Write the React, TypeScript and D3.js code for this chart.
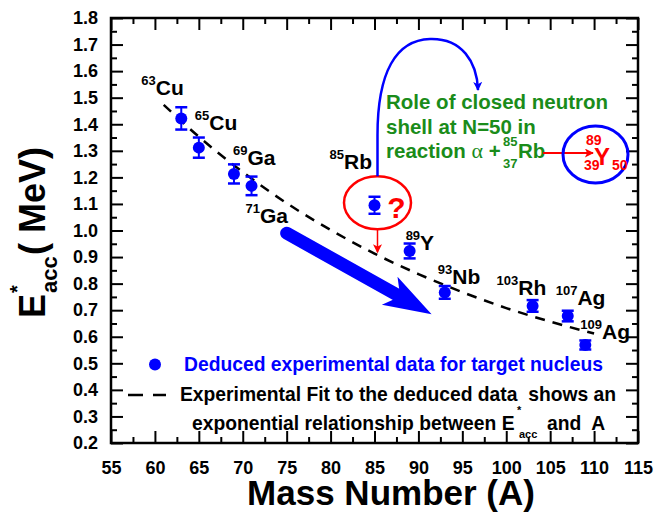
import * as d3 from "d3";
import { useEffect, useRef } from "react";

// target nuclei
const massNumbers = [63, 65, 69, 71, 85, 89, 93, 103, 107, 109];
const symbols = ["Cu", "Cu", "Ga", "Ga", "Rb", "Y", "Nb", "Rh", "Ag", "Ag"];
const excitation = [1.422, 1.312, 1.213, 1.168, 1.095, 0.923, 0.767, 0.716, 0.678, 0.569];
const errors = [0.042, 0.038, 0.036, 0.035, 0.032, 0.028, 0.024, 0.022, 0.02, 0.017];

// dashed experimental fit
const fitMass = [61, 65, 70, 75, 80, 85, 90, 95, 100, 105, 110];
const fitExcitation = [1.473, 1.353, 1.22, 1.103, 1.002, 0.913, 0.836, 0.768, 0.708, 0.657, 0.612];

const xTickValues = [55, 60, 65, 70, 75, 80, 85, 90, 95, 100, 105, 110, 115];
const yTickValues = [0.2, 0.3, 0.4, 0.5, 0.6, 0.7, 0.8, 0.9, 1.0, 1.1, 1.2, 1.3, 1.4, 1.5, 1.6, 1.7, 1.8];

// label placement (px) relative to each point
const labelOffsets = [
  [-40, -23], [-4, -18], [-1, -9], [-6, 37], [-45, -36],
  [-4, -1], [-7, -8], [-36, -11], [-12, -11], [-5, -6],
];

// big trend arrow, in data units [A, E]
const trendFrom = [75.0, 0.99];
const trendTo = [91.5, 0.685];

const W = 654;
const H = 512;
const FONT = "'Liberation Sans', Arial, Helvetica, sans-serif";
const BLUE = "#0000ff";
const RED = "#ff0000";
const GREEN = "#1a8c1a";

export default function App() {
  const svgRef = useRef<SVGSVGElement | null>(null);

  useEffect(() => {
    const svg = d3.select(svgRef.current);
    svg.selectAll("*").remove();

    const x = d3.scaleLinear().domain([55, 115]).range([111, 638]);
    const y = d3.scaleLinear().domain([0.2, 1.8]).range([443, 18]);
    const [x0, x1] = x.range();
    const [y0, y1] = y.range();

    const defs = svg.append("defs");
    const marker = (id: string, color: string, w: number, h: number) =>
      defs
        .append("marker")
        .attr("id", id)
        .attr("viewBox", "0 0 10 10")
        .attr("refX", 9)
        .attr("refY", 5)
        .attr("markerWidth", w)
        .attr("markerHeight", h)
        .attr("markerUnits", "userSpaceOnUse")
        .attr("orient", "auto")
        .append("path")
        .attr("d", "M0,0 L10,5 L0,10 L2.5,5 Z")
        .attr("fill", color);
    marker("redHead", RED, 11, 9);
    marker("blueHead", BLUE, 12, 9);

    // axes (inward ticks on all four sides)
    const minorX = d3.range(57.5, 115, 5);
    const minorY = d3.range(0.25, 1.8, 0.1);

    const styleAxis = (g: any) => {
      g.select(".domain").remove();
      g.selectAll("line").attr("stroke", "#000").attr("stroke-width", 2);
      g.selectAll("text")
        .attr("font-family", FONT)
        .attr("font-weight", "bold")
        .attr("font-size", 18)
        .attr("fill", "#000");
    };
    const bare = (g: any) => {
      styleAxis(g);
      g.selectAll("text").remove();
    };

    svg.append("g").attr("transform", `translate(0,${y0})`)
      .call(d3.axisBottom(x).tickValues(xTickValues).tickSize(-12).tickPadding(18).tickFormat(d3.format("d")) as any)
      .call(styleAxis);
    svg.append("g").attr("transform", `translate(0,${y0})`)
      .call(d3.axisBottom(x).tickValues(minorX).tickSize(-6) as any)
      .call(bare);
    svg.append("g").attr("transform", `translate(0,${y1})`)
      .call(d3.axisTop(x).tickValues(xTickValues).tickSize(-12) as any)
      .call(bare);
    svg.append("g").attr("transform", `translate(0,${y1})`)
      .call(d3.axisTop(x).tickValues(minorX).tickSize(-6) as any)
      .call(bare);

    svg.append("g").attr("transform", `translate(${x0},0)`)
      .call(d3.axisLeft(y).tickValues(yTickValues).tickSize(-12).tickPadding(13).tickFormat(d3.format(".1f")) as any)
      .call(styleAxis);
    svg.append("g").attr("transform", `translate(${x0},0)`)
      .call(d3.axisLeft(y).tickValues(minorY).tickSize(-6) as any)
      .call(bare);
    svg.append("g").attr("transform", `translate(${x1},0)`)
      .call(d3.axisRight(y).tickValues(yTickValues).tickSize(-12) as any)
      .call(bare);
    svg.append("g").attr("transform", `translate(${x1},0)`)
      .call(d3.axisRight(y).tickValues(minorY).tickSize(-6) as any)
      .call(bare);

    svg.append("rect")
      .attr("x", x0).attr("y", y1)
      .attr("width", x1 - x0).attr("height", y0 - y1)
      .attr("fill", "none").attr("stroke", "#000").attr("stroke-width", 2.5);

    // axis titles
    svg.append("text")
      .attr("x", 391).attr("y", 505)
      .attr("text-anchor", "middle")
      .attr("font-family", FONT).attr("font-weight", "bold").attr("font-size", 35)
      .text("Mass Number (A)");

    const yt = svg.append("text")
      .attr("transform", "translate(45,318) rotate(-90)")
      .attr("font-family", FONT).attr("font-weight", "bold").attr("font-size", 36);
    yt.append("tspan").attr("x", 0).attr("y", 0).text("E");
    yt.append("tspan").attr("x", 25).attr("y", -21).attr("font-size", 20).text("*");
    yt.append("tspan").attr("x", 25).attr("y", 12).attr("font-size", 22).text("acc");
    yt.append("tspan").attr("x", 63).attr("y", 0).text("( MeV)");

    // dashed fit
    const line = d3.line<number>()
      .x((_, i) => x(fitMass[i]))
      .y((d) => y(d))
      .curve(d3.curveMonotoneX);
    svg.append("path")
      .datum(fitExcitation)
      .attr("d", line)
      .attr("fill", "none")
      .attr("stroke", "#000")
      .attr("stroke-width", 2.5)
      .attr("stroke-dasharray", "10,8");

    // big blue trend arrow
    const sx = x(trendFrom[0]), sy = y(trendFrom[1]);
    const tx = x(trendTo[0]), ty = y(trendTo[1]);
    const len = Math.hypot(tx - sx, ty - sy);
    const ux = (tx - sx) / len, uy = (ty - sy) / len;
    const nx = -uy, ny = ux;
    const headLen = 48, headHalf = 16, notch = 36;
    svg.append("line")
      .attr("x1", sx).attr("y1", sy)
      .attr("x2", tx - ux * notch).attr("y2", ty - uy * notch)
      .attr("stroke", BLUE).attr("stroke-width", 13).attr("stroke-linecap", "round");
    svg.append("path")
      .attr("d", `M${tx},${ty}
        L${tx - ux * headLen + nx * headHalf},${ty - uy * headLen + ny * headHalf}
        L${tx - ux * notch},${ty - uy * notch}
        L${tx - ux * headLen - nx * headHalf},${ty - uy * headLen - ny * headHalf} Z`)
      .attr("fill", BLUE);

    // data points with error bars
    const pts = svg.append("g");
    massNumbers.forEach((a, i) => {
      const px = x(a), py = y(excitation[i]);
      const top = y(excitation[i] + errors[i]), bot = y(excitation[i] - errors[i]);
      pts.append("line").attr("x1", px).attr("x2", px).attr("y1", top).attr("y2", bot)
        .attr("stroke", BLUE).attr("stroke-width", 2);
      [top, bot].forEach((cy) =>
        pts.append("line").attr("x1", px - 6).attr("x2", px + 6).attr("y1", cy).attr("y2", cy)
          .attr("stroke", BLUE).attr("stroke-width", 2.5)
      );
      pts.append("circle").attr("cx", px).attr("cy", py).attr("r", 6).attr("fill", BLUE);

      const [dx, dy] = labelOffsets[i];
      const t = svg.append("text")
        .attr("x", px + dx).attr("y", py + dy)
        .attr("font-family", FONT).attr("font-weight", "bold").attr("fill", "#000");
      t.append("tspan").attr("font-size", 13).attr("dy", -10).text(String(a));
      t.append("tspan").attr("font-size", 21).attr("dy", 10).text(symbols[i]);
    });

    // red ellipse round 85Rb with question mark
    const rbX = x(85), rbY = y(1.095);
    svg.append("ellipse")
      .attr("cx", rbX + 3).attr("cy", rbY - 2.5).attr("rx", 33.5).attr("ry", 26.5)
      .attr("fill", "none").attr("stroke", RED).attr("stroke-width", 2.5);
    svg.append("text")
      .attr("x", rbX + 22).attr("y", rbY + 13).attr("text-anchor", "middle")
      .attr("font-family", FONT).attr("font-weight", "bold").attr("font-size", 30).attr("fill", RED)
      .text("?");
    svg.append("line")
      .attr("x1", rbX + 3).attr("y1", rbY + 24).attr("x2", rbX + 3).attr("y2", rbY + 47)
      .attr("stroke", RED).attr("stroke-width", 1.5).attr("marker-end", "url(#redHead)");

    // blue curved arrow from the ellipse to the note
    svg.append("path")
      .attr("d", `M${rbX + 3},${rbY - 29} L${rbX + 3},135 C${rbX + 3},72 396,40 430,39 C462,38 477,62 478,90`)
      .attr("fill", "none").attr("stroke", BLUE).attr("stroke-width", 2.5)
      .attr("marker-end", "url(#blueHead)");

    // green note
    const note = svg.append("g")
      .attr("font-family", FONT).attr("font-weight", "bold").attr("fill", GREEN);
    note.append("text").attr("x", 386).attr("y", 109).attr("font-size", 20.5).text("Role of closed neutron");
    note.append("text").attr("x", 386).attr("y", 134).attr("font-size", 20.5).text("shell at N=50 in");
    const l3 = note.append("text").attr("x", 386).attr("y", 158).attr("font-size", 20.5);
    l3.append("tspan").text("reaction ");
    l3.append("tspan").attr("font-weight", "normal").attr("font-family", "'Liberation Serif', serif").attr("font-size", 22).text("\u03b1");
    l3.append("tspan").text(" +");
    note.append("text").attr("x", 503).attr("y", 146).attr("font-size", 13).text("85");
    note.append("text").attr("x", 503).attr("y", 168).attr("font-size", 13).text("37");
    note.append("text").attr("x", 518).attr("y", 158).attr("font-size", 20.5).text("Rb");

    svg.append("line")
      .attr("x1", 543).attr("y1", 153).attr("x2", 593).attr("y2", 153)
      .attr("stroke", RED).attr("stroke-width", 2).attr("marker-end", "url(#redHead)");

    // 89Y circle
    svg.append("ellipse")
      .attr("cx", 595.5).attr("cy", 154.5).attr("rx", 32.5).attr("ry", 28.5)
      .attr("fill", "none").attr("stroke", BLUE).attr("stroke-width", 3);
    const yg = svg.append("g")
      .attr("font-family", FONT).attr("font-weight", "bold").attr("fill", RED);
    yg.append("text").attr("x", 586).attr("y", 145).attr("font-size", 14).text("89");
    yg.append("text").attr("x", 594).attr("y", 165).attr("font-size", 24).text("Y");
    yg.append("text").attr("x", 584).attr("y", 170).attr("font-size", 14).text("39");
    yg.append("text").attr("x", 612).attr("y", 170).attr("font-size", 14).text("50");

    // legend
    const lg = svg.append("g").attr("font-family", FONT).attr("font-weight", "bold").attr("font-size", 19.3);
    lg.append("circle").attr("cx", 155).attr("cy", 364.5).attr("r", 6).attr("fill", BLUE);
    lg.append("text").attr("x", 184).attr("y", 371).attr("fill", BLUE)
      .text("Deduced experimental data for target nucleus");
    lg.append("line").attr("x1", 128).attr("x2", 166).attr("y1", 395).attr("y2", 395)
      .attr("stroke", "#000").attr("stroke-width", 2.5).attr("stroke-dasharray", "15,10");
    lg.append("text").attr("x", 180).attr("y", 401).attr("fill", "#000")
      .style("white-space", "pre")
      .text("Experimental Fit to the deduced data  shows an");
    lg.append("text").attr("x", 192).attr("y", 430).attr("fill", "#000")
      .text("exponential relationship between E");
    lg.append("text").attr("x", 517).attr("y", 414).attr("font-size", 11).text("*");
    lg.append("text").attr("x", 519).attr("y", 438).attr("font-size", 11).text("acc");
    lg.append("text").attr("x", 547).attr("y", 430).style("white-space", "pre").text("and  A");
  }, []);

  return (
    <svg
      ref={svgRef}
      width={W}
      height={H}
      style={{ position: "absolute", left: 0, top: 0, background: "#fff" }}
    ></svg>
  );
}
